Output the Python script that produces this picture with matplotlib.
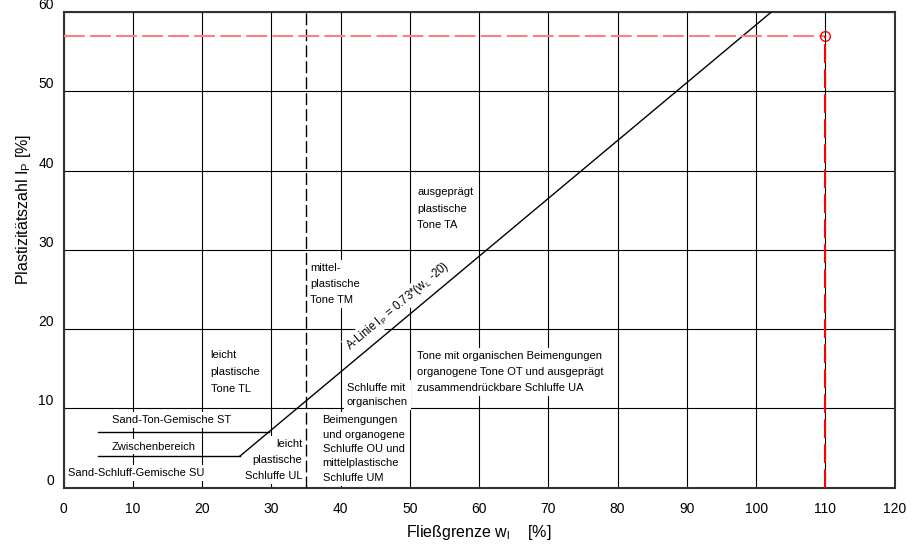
import numpy as np
import matplotlib.pyplot as plt

plt.rcParams['font.family'] = ['Liberation Sans', 'DejaVu Sans']
plt.rcParams['mathtext.fontset'] = 'custom'
plt.rcParams['mathtext.rm'] = 'Liberation Sans'
plt.rcParams['mathtext.it'] = 'Liberation Sans'
plt.rcParams['mathtext.default'] = 'regular'

# axis ticks
x_ticks = [0, 10, 20, 30, 40, 50, 60, 70, 80, 90, 100, 110, 120]
y_ticks = [0, 10, 20, 30, 40, 50, 60]

# A-Linie (end points)
a_line_w = [25.5, 102.2]
a_line_ip = [4.0, 60.0]

# boundaries of the sand mixtures
st_w = [5.0, 29.6]
st_ip = [7.0, 7.0]
su_w = [5.0, 25.5]
su_ip = [4.0, 4.0]

# limit between light and medium plasticity
tm_limit_w = 35

# sample point
sample_w = 110
sample_ip = 57

# region labels: text, w, Ip, alignment, line spacing
region_texts = ["Sand-Ton-Gemische ST", "Zwischenbereich", "Sand-Schluff-Gemische SU",
                "leicht\nplastische\nTone TL", "leicht\nplastische\nSchluffe UL",
                "mittel-\nplastische\nTone TM", "Schluffe mit\norganischen",
                "Beimengungen\nund organogene\nSchluffe OU und\nmittelplastische\nSchluffe UM",
                "ausgeprägt\nplastische\nTone TA",
                "Tone mit organischen Beimengungen\norganogene Tone OT und ausgeprägt\nzusammendrückbare Schluffe UA"]
region_w = [7.0, 7.0, 0.7, 21.25, 34.5, 35.6, 40.9, 37.4, 51.1, 51.1]
region_ip = [8.54, 5.17, 1.82, 14.63, 3.5, 25.7, 11.7, 4.88, 35.2, 14.6]
region_ha = ['left', 'left', 'left', 'left', 'right', 'left', 'left', 'left', 'left', 'left']
region_ls = [1.2, 1.2, 1.2, 1.85, 1.8, 1.8, 1.55, 1.55, 1.8, 1.78]

fig = plt.figure(figsize=(9.23, 5.46), dpi=100)
ax = fig.add_axes([0.0688, 0.1068, 0.9005, 0.8712])

ax.set_xlim(0, 120)
ax.set_ylim(0, 60)
ax.set_xticks(x_ticks)
ax.set_yticks(y_ticks)
ax.tick_params(length=0, labelsize=10, pad=7)
ax.tick_params(axis='x', pad=10)
for lab in ax.get_yticklabels():
    lab.set_va('bottom')
ax.grid(True, color='black', lw=0.8, zorder=0)
ax.set_axisbelow(True)
for sp in ax.spines.values():
    sp.set_color('#333333')
    sp.set_linewidth(1.5)

box = dict(facecolor='white', edgecolor='none', pad=2)
for t, w, ip, ha, ls in zip(region_texts, region_w, region_ip, region_ha, region_ls):
    ax.text(w, ip, t, ha=ha, va='center', multialignment=ha, fontsize=8,
            linespacing=ls, bbox=box, zorder=2)

# lines
ax.plot(a_line_w, a_line_ip, color='black', lw=1, zorder=3)
ax.plot(st_w, st_ip, color='black', lw=1, zorder=3)
ax.plot(su_w, su_ip, color='black', lw=1, zorder=3)
ax.plot([tm_limit_w, tm_limit_w], [0, 60], color='black', lw=1, dashes=(8.6, 2.9), zorder=3)

# A-Linie label
ang = ax.transData.transform_angles(np.array([np.degrees(np.arctan(0.73))]),
                                    np.array([[45.0, 18.0]]))[0]
ax.text(41.36, 17.36, 'A-Linie I$_P$ = 0.73*(w$_L$ -20)', fontsize=8.3, rotation=ang,
        rotation_mode='anchor', ha='left', va='baseline',
        bbox=dict(facecolor='white', edgecolor='none', pad=1), zorder=2)

# sample
ax.plot([0, sample_w], [sample_ip, sample_ip], color='#ff7f7f', lw=1.5, dashes=(10, 2.5), zorder=4)
ax.plot([sample_w, sample_w], [0, sample_ip], color='red', lw=1.5, dashes=(9, 3), zorder=4)
ax.plot(sample_w, sample_ip, 'o', mfc='none', mec='red', ms=7, mew=1, zorder=5)

ax.set_xlabel('Fließgrenze w$_\\mathrm{l}$    [%]', fontsize=11.5)
ax.set_ylabel('Plastizitätszahl I$_\\mathrm{P}$ [%]', fontsize=11.5)
ax.xaxis.set_label_coords(0.5, -0.074)
ax.yaxis.set_label_coords(-0.037, 0.586)

fig.savefig('out.png', dpi=100)
